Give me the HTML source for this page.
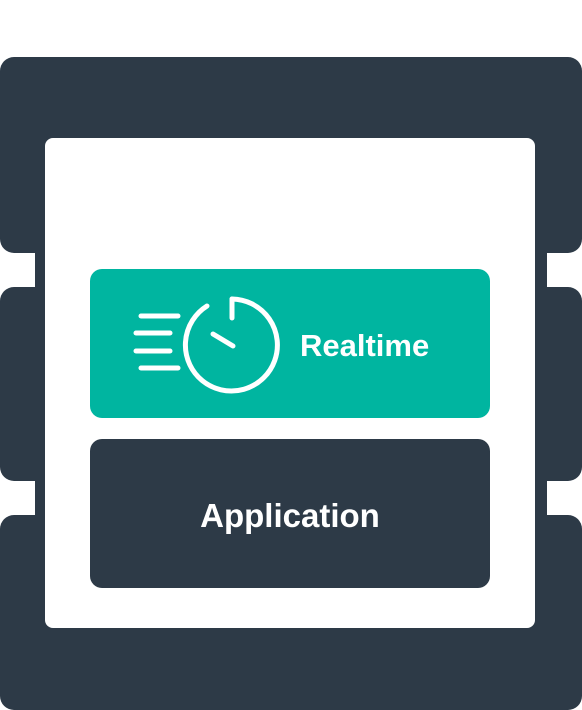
<!DOCTYPE html>
<html><head><style>
body{margin:0;width:582px;height:710px;background:#fff;position:relative;overflow:hidden;font-family:"Liberation Sans",sans-serif}
.d{position:absolute;background:#2d3a47}
</style></head><body>
<div class="d" style="left:0;top:57px;width:582px;height:196px;border-radius:14px"></div>
<div class="d" style="left:0;top:287px;width:582px;height:194px;border-radius:14px"></div>
<div class="d" style="left:0;top:515px;width:582px;height:195px;border-radius:14px"></div>
<div class="d" style="left:35px;top:240px;width:512px;height:290px"></div>
<div style="position:absolute;left:45px;top:138px;width:490px;height:490px;background:#fff;border-radius:8px"></div>
<div style="position:absolute;left:90px;top:269px;width:400px;height:149px;background:#00b5a0;border-radius:12px"></div>
<div class="d" style="left:90px;top:439px;width:400px;height:149px;border-radius:12px"></div>
<svg style="position:absolute;left:0;top:0" width="582" height="710">
<g stroke="#fff" stroke-width="5" stroke-linecap="round" fill="none">
<line x1="141" y1="316" x2="178" y2="316"/>
<line x1="136" y1="333" x2="170" y2="333"/>
<line x1="136" y1="351" x2="170" y2="351"/>
<line x1="141" y1="368" x2="178" y2="368"/>
<path d="M232 299 A46 46 0 1 1 207 306"/>
<line x1="232" y1="299" x2="232" y2="318"/>
<line x1="213" y1="334" x2="233" y2="346"/>
</g>
<text x="300" y="356" fill="#fff" font-size="31" font-weight="bold" font-family="Liberation Sans, sans-serif">Realtime</text>
<text x="290" y="527" fill="#fff" font-size="33" font-weight="bold" text-anchor="middle" font-family="Liberation Sans, sans-serif">Application</text>
</svg>
</body></html>
